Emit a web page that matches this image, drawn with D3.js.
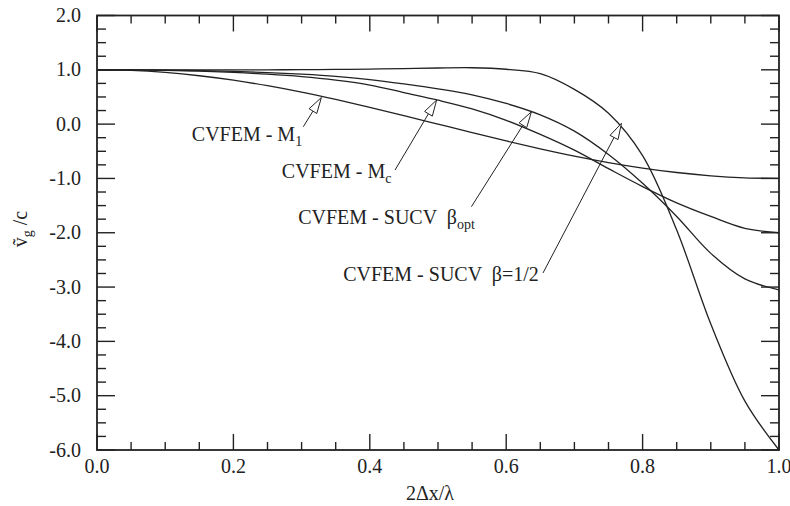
<!DOCTYPE html>
<html>
<head>
<meta charset="utf-8">
<script src="https://cdn.jsdelivr.net/npm/d3@7"></script>
<style>
body{margin:0;background:#fff}
text{font-family:"Liberation Serif","Times New Roman",serif;fill:#222;white-space:pre}
</style>
</head>
<body>
<div id="chart-area"></div>
<script>
// abscissa 2dx/lambda
var xVals = [0,0.05,0.1,0.15,0.2,0.25,0.3,0.35,0.4,0.45,0.5,0.55,0.6,0.65,0.7,0.75,0.8,0.85,0.9,0.95,1.0];
// group velocity curves
var m1    = [1,0.988,0.951,0.891,0.809,0.707,0.588,0.454,0.309,0.156,0,-0.156,-0.309,-0.454,-0.588,-0.707,-0.809,-0.891,-0.951,-0.988,-1.0];
var mc    = [1,0.998,0.99,0.975,0.953,0.92,0.875,0.81,0.72,0.58,0.44,0.28,0.07,-0.19,-0.48,-0.82,-1.15,-1.45,-1.7,-1.92,-2.0];
var bOpt  = [1,0.999,0.995,0.985,0.97,0.95,0.92,0.88,0.82,0.74,0.65,0.54,0.38,0.17,-0.13,-0.56,-1.09,-1.7,-2.38,-2.85,-3.05];
var bHalf = [1,1,1,1,1,1,1.003,1.007,1.013,1.022,1.033,1.038,1.01,0.93,0.64,0.2,-0.58,-1.95,-3.68,-5.1,-6.0];

var xTickLabels = [0,0.2,0.4,0.6,0.8,1.0];
var yTickLabels = [2,1,0,-1,-2,-3,-4,-5,-6];

var width = 790, height = 506;
var margin = {top: 15.5, left: 97};
var w = 682, h = 434.5;

var svg = d3.select("#chart-area").append("svg")
    .attr("width", width)
    .attr("height", height);

var x = d3.scaleLinear().domain([0, 1]).range([margin.left, margin.left + w]);
var y = d3.scaleLinear().domain([-6, 2]).range([margin.top + h, margin.top]);

// minor/major ticks, all pointing inward
var xMinor = d3.range(0, 1.0001, 0.05);
var yMinor = d3.range(-6, 2.0001, 0.25);
function isMajor(v, step) { return Math.abs(v / step - Math.round(v / step)) < 1e-6; }

var ticks = svg.append("g").attr("stroke", "#222").attr("stroke-width", 1.4);
xMinor.forEach(v => {
    var len = isMajor(v, 0.2) ? 16 : 8;
    ticks.append("line").attr("x1", x(v)).attr("x2", x(v)).attr("y1", y(-6)).attr("y2", y(-6) - len);
    ticks.append("line").attr("x1", x(v)).attr("x2", x(v)).attr("y1", y(2)).attr("y2", y(2) + len);
});
yMinor.forEach(v => {
    var len = isMajor(v, 1) ? 18 : 9;
    ticks.append("line").attr("y1", y(v)).attr("y2", y(v)).attr("x1", x(0)).attr("x2", x(0) + len);
    ticks.append("line").attr("y1", y(v)).attr("y2", y(v)).attr("x1", x(1)).attr("x2", x(1) - len);
});

// frame
svg.append("rect")
    .attr("x", x(0)).attr("y", y(2))
    .attr("width", w).attr("height", h)
    .attr("fill", "none").attr("stroke", "#222").attr("stroke-width", 1.8);

// tick labels
svg.append("g").selectAll("text").data(xTickLabels).enter().append("text")
    .attr("x", d => x(d)).attr("y", y(-6) + 23)
    .attr("text-anchor", "middle").attr("font-size", 20)
    .text(d => d.toFixed(1));
svg.append("g").selectAll("text").data(yTickLabels).enter().append("text")
    .attr("x", x(0) - 16).attr("y", d => y(d) + 6.5)
    .attr("text-anchor", "end").attr("font-size", 20)
    .text(d => d.toFixed(1));

// axis titles
svg.append("text").attr("x", 430).attr("y", 500)
    .attr("text-anchor", "middle").attr("font-size", 20)
    .text("2\u0394x/\u03bb");
var yt = svg.append("text")
    .attr("transform", "translate(27,229) rotate(-90)")
    .attr("text-anchor", "middle").attr("font-size", 20);
yt.append("tspan").text("v\u0303");
yt.append("tspan").attr("font-size", 14).attr("dy", 5).text("g");
yt.append("tspan").attr("dy", -5).text(" /c");

// curves
var series = [m1, mc, bOpt, bHalf];
var line = d3.line()
    .x((d, i) => x(xVals[i]))
    .y(d => y(d))
    .curve(d3.curveCatmullRom.alpha(0.5));
svg.append("g").selectAll("path").data(series).enter().append("path")
    .attr("d", d => line(d))
    .attr("fill", "none").attr("stroke", "#222").attr("stroke-width", 1.3);

// annotations: tip on curve, tail, label position (data coords)
var notes = [
    {tip: [0.329, 0.49], tail: [0.3025, -0.048], at: [0.139, -0.306], main: "CVFEM - M", sub: "1"},
    {tip: [0.498, 0.444], tail: [0.437, -0.845], at: [0.271, -0.987], main: "CVFEM - M", sub: "c"},
    {tip: [0.637, 0.228], tail: [0.549, -1.52], at: [0.295, -1.845], main: "CVFEM - SUCV  \u03b2", sub: "opt"},
    {tip: [0.769, 0.015], tail: [0.654, -2.74], at: [0.361, -2.89], main: "CVFEM - SUCV  \u03b2=1/2", sub: ""}
];
var ann = svg.append("g");
notes.forEach(n => {
    var tx = x(n.tip[0]), ty = y(n.tip[1]);
    var sx = x(n.tail[0]), sy = y(n.tail[1]);
    var dx = tx - sx, dy = ty - sy, L = Math.sqrt(dx * dx + dy * dy);
    var ux = dx / L, uy = dy / L, hl = 16, hw = 4.5;
    var bx = tx - ux * hl, by = ty - uy * hl;
    ann.append("line").attr("x1", sx).attr("y1", sy).attr("x2", bx).attr("y2", by)
        .attr("stroke", "#222").attr("stroke-width", 1);
    ann.append("polygon")
        .attr("points", [[tx, ty], [bx - uy * hw, by + ux * hw], [bx + uy * hw, by - ux * hw]].join(" "))
        .attr("fill", "#fff").attr("stroke", "#222").attr("stroke-width", 1);
    var t = ann.append("text").attr("x", x(n.at[0])).attr("y", y(n.at[1])).attr("font-size", 20);
    t.append("tspan").text(n.main);
    if (n.sub) t.append("tspan").attr("font-size", 14).attr("dy", 5).text(n.sub);
});
</script>
</body>
</html>
